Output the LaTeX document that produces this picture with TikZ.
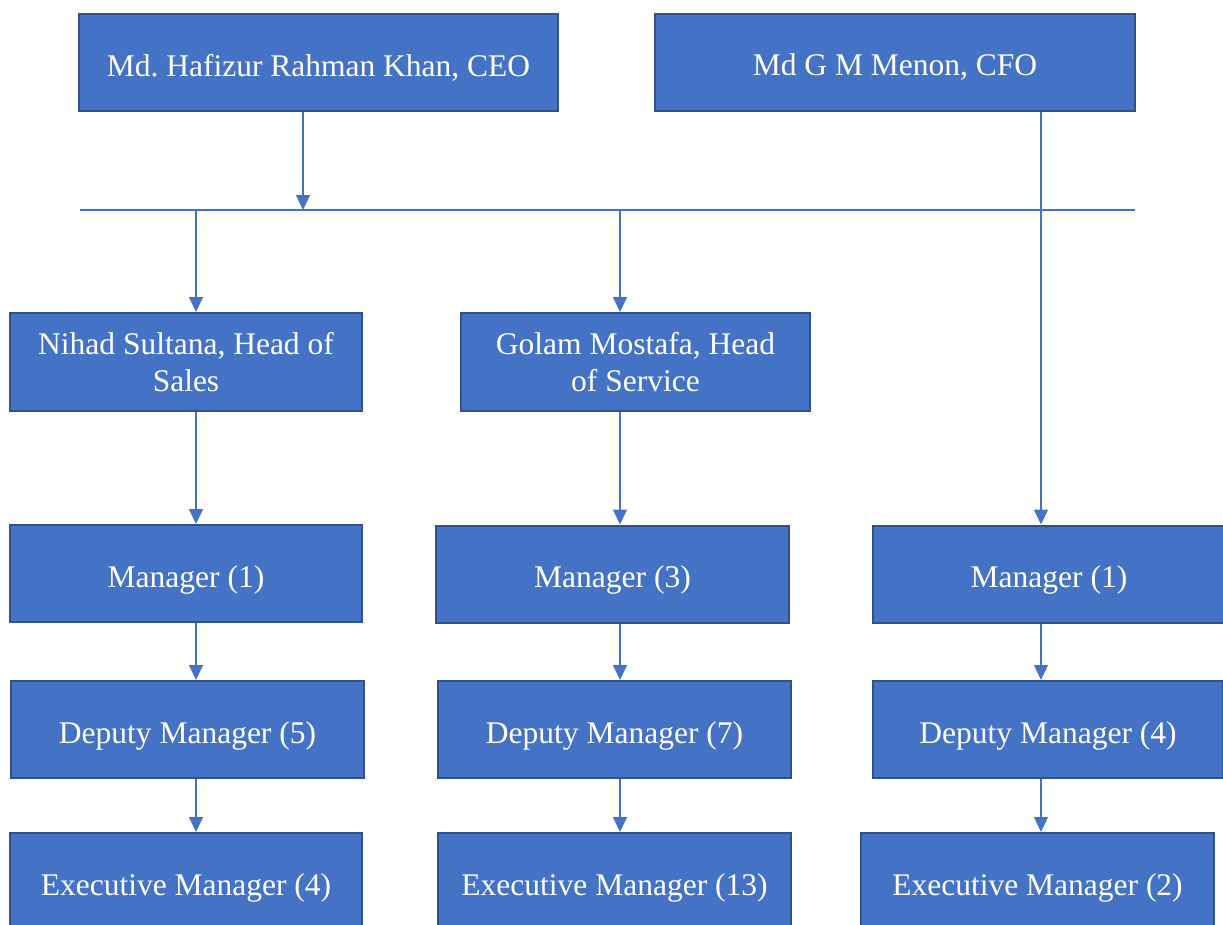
\documentclass[tikz,border=0pt]{standalone}
\usepackage{fontspec}
\setmainfont{Liberation Serif}
\frenchspacing
\usetikzlibrary{arrows.meta}
\definecolor{boxblue}{HTML}{4472C4}
\definecolor{boxedge}{HTML}{2F528F}
\tikzset{
	post/.style={draw=boxedge, line width=2pt, fill=boxblue, text=white, minimum width=#1, minimum height=97pt, inner sep=0pt, align=center, text height=27pt, text depth=0pt, font=\fontsize{31.5}{37}\selectfont},
	post/.default=352pt,
	twoline/.style={text height=, text depth=, minimum height=98pt, yshift=0pt},
	wire/.style={draw=boxblue, line width=1.3pt},
	link/.style={wire, -{Triangle[width=14pt,length=15pt]}},
}

\begin{document}
\begin{tikzpicture}[x=1pt,y=-1pt]
				\useasboundingbox (0,0) rectangle (1223,924);
				
				\node[post=479pt] (ceo) at (318.5,62.5) {Md. Hafizur Rahman Khan, CEO};
				\node[post=480pt] (cfo) at (895,62) {Md G M Menon, CFO};
				
				\node[post, twoline] (sales) at (186,362) {Nihad Sultana, Head of\\Sales};
				\node[post=349pt, twoline] (service) at (635.5,362) {Golam Mostafa, Head\\of Service};
				
				\node[post] (mgrA) at (186,573.5) {Manager (1)};
				\node[post=353pt] (mgrB) at (612.5,574) {Manager (3)};
				\node[post] (mgrC) at (1049,574) {Manager (1)};
				
				\node[post=353pt] (depA) at (187.5,729.5) {Deputy Manager (5)};
				\node[post=353pt] (depB) at (614.5,729.5) {Deputy Manager (7)};
				\node[post=350pt] (depC) at (1048,729.5) {Deputy Manager (4)};
				
				\node[post] (exeA) at (186,881.5) {Executive Manager (4)};
				\node[post=353pt] (exeB) at (614.5,881.5) {Executive Manager (13)};
				\node[post=353pt] (exeC) at (1037.5,881.5) {Executive Manager (2)};
				
				\coordinate (barL) at (80,210);
				\coordinate (barR) at (1135,210);
				\coordinate (ceoDrop) at (303,210);
				\coordinate (colA) at (196,210);
				\coordinate (colB) at (620,210);
				\coordinate (colC) at (1041,210);
				
				\draw[wire] (barL) -- (barR);
				\draw[link] (ceoDrop |- ceo.south) -- (ceoDrop);
				\draw[link] (colA) -- (colA |- sales.north);
				\draw[link] (colB) -- (colB |- service.north);
				\draw[link] (colC |- cfo.south) -- (colC |- mgrC.north);
				
				\foreach \col/\a/\b in {colA/sales/mgrA, colA/mgrA/depA, colA/depA/exeA,
					colB/service/mgrB, colB/mgrB/depB, colB/depB/exeB,
					colC/mgrC/depC, colC/depC/exeC}
					\draw[link] (\col |- \a.south) -- (\col |- \b.north);
\end{tikzpicture}
\end{document}
